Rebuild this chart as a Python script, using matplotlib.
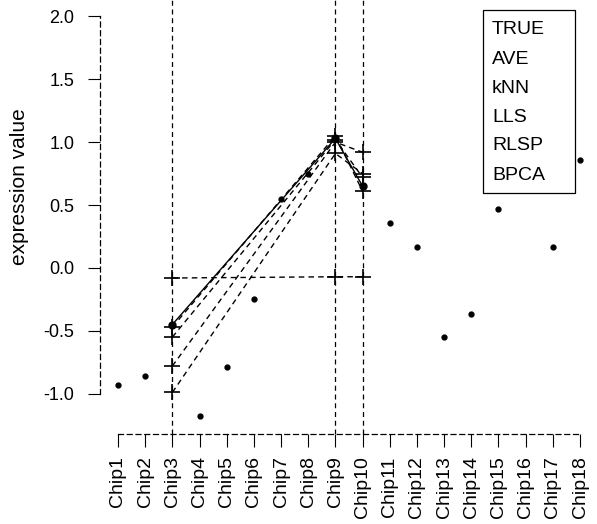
import matplotlib
matplotlib.use("Agg")
import matplotlib.pyplot as plt
from matplotlib.patches import Rectangle

plt.rcParams['font.family'] = ['Liberation Sans', 'DejaVu Sans']

chips = [f"Chip{i}" for i in range(1, 19)]
true_vals = [-0.93, -0.86, -0.45, -1.18, -0.79, -0.25, 0.55, 0.75, 1.03,
             0.65, 0.36, 0.17, -0.55, -0.37, 0.47, 1.10, 0.17, 0.86]
missing_idx = [3, 9, 10]  # chip numbers with missing values
ave_vals = [-0.08, -0.07, -0.07]
knn_vals = [-0.99, 0.91, 0.75]
lls_vals = [-0.78, 1.00, 0.92]
rlsp_vals = [-0.55, 1.02, 0.72]
bpca_vals = [-0.47, 1.05, 0.61]
legend_labels = ["TRUE", "AVE", "kNN", "LLS", "RLSP", "BPCA"]

W, H = 597, 524
fig = plt.figure(figsize=(W / 100, H / 100), dpi=100)
ax = fig.add_axes([99.5 / W, 1 - 434 / H, 499 / W, 434 / H])

x = list(range(1, 19))
ax.set_xlim(0.32, 18.68)
ax.set_ylim(-1.32, 2.13)

dash = (4, 3)
for c in missing_idx:
    ax.axvline(c, color='black', lw=0.9, dashes=dash)

# TRUE points
ax.plot(x, true_vals, 'o', color='black', ms=3.5, zorder=3)
# TRUE line through missing positions
tv = [true_vals[c - 1] for c in missing_idx]
ax.plot(missing_idx, tv, '-', color='black', lw=1.0, marker='o', ms=5, zorder=3)

for vals in [ave_vals, knn_vals, lls_vals, rlsp_vals, bpca_vals]:
    ax.plot(missing_idx, vals, color='black', lw=1.0, dashes=dash,
            marker='+', ms=11, mew=1.2, zorder=3)

# axes styling
for s in ['top', 'right']:
    ax.spines[s].set_visible(False)
ax.spines['left'].set_bounds(-1.0, 2.0)
ax.spines['bottom'].set_bounds(1, 18)
for s in ['left', 'bottom']:
    ax.spines[s].set_linestyle((0, (4, 3)))
    ax.spines[s].set_linewidth(0.9)

ax.set_yticks([-1.0, -0.5, 0.0, 0.5, 1.0, 1.5, 2.0])
ax.set_yticklabels(["-1.0", "-0.5", "0.0", "0.5", "1.0", "1.5", "2.0"])
ax.set_xticks(x)
ax.set_xticklabels(chips, rotation=90)
ax.tick_params(axis='both', length=9, width=0.8, color='black')
ax.tick_params(axis='y', labelsize=13, pad=9)
ax.tick_params(axis='x', labelsize=14, pad=7)

fig.text(20 / W, 1 - 187 / H, "expression value", rotation=90,
         ha='center', va='center', fontsize=15)

# legend box (text only, as in the original)
box = Rectangle((483 / W, 1 - 193 / H), (575 - 483) / W, (193 - 10) / H,
                transform=fig.transFigure, facecolor='white',
                edgecolor='black', lw=0.9, zorder=5, clip_on=False)
fig.patches.append(box)
for i, lab in enumerate(legend_labels):
    fig.text(492 / W, 1 - (30 + 29 * i) / H, lab, ha='left', va='center',
             fontsize=14, zorder=6)

fig.savefig("out.png", dpi=100)
